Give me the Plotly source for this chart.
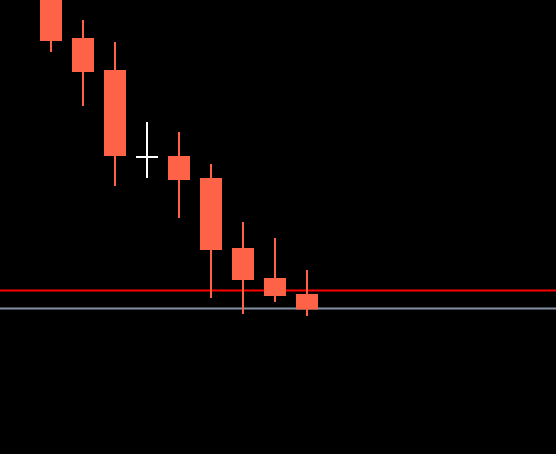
import plotly.graph_objects as go

x_idx = [0, 1, 2, 3, 4, 5, 6, 7, 8]
open_ = [46.1, 41.5, 38.3, 29.69, 29.7, 27.5, 20.5, 17.5, 15.9]
high = [47.4, 43.4, 41.2, 33.2, 32.2, 29.0, 23.2, 21.6, 18.4]
low = [40.2, 34.8, 26.8, 27.6, 23.6, 15.6, 14.0, 15.2, 13.8]
close = [41.4, 38.3, 29.9, 29.70, 27.5, 20.5, 17.5, 15.9, 14.55]
red_level = 16.35

fig = go.Figure()
fig.add_trace(go.Candlestick(
    x=x_idx, open=open_, high=high, low=low, close=close,
    increasing=dict(line=dict(color="white", width=2), fillcolor="white"),
    decreasing=dict(line=dict(color="tomato", width=2), fillcolor="tomato"),
    showlegend=False,
))
fig.add_hline(y=red_level, line=dict(color="#ff0000", width=2), layer="below")
fig.add_hline(y=close[-1], line=dict(color="#8491a3", width=2), layer="below")

fig.update_layout(
    width=556, height=454,
    margin=dict(l=0, r=0, t=0, b=0),
    paper_bgcolor="black", plot_bgcolor="black",
    xaxis=dict(visible=False, range=[-51/32, 505/32], rangeslider=dict(visible=False)),
    yaxis=dict(visible=False, range=[0, 45.4]),
    boxgap=0.375, boxgroupgap=0,
    showlegend=False,
)
fig.write_html(
    "out.html",
    config={"displayModeBar": False},
    post_script="document.body.style.margin='0';document.body.style.background='black';",
)
